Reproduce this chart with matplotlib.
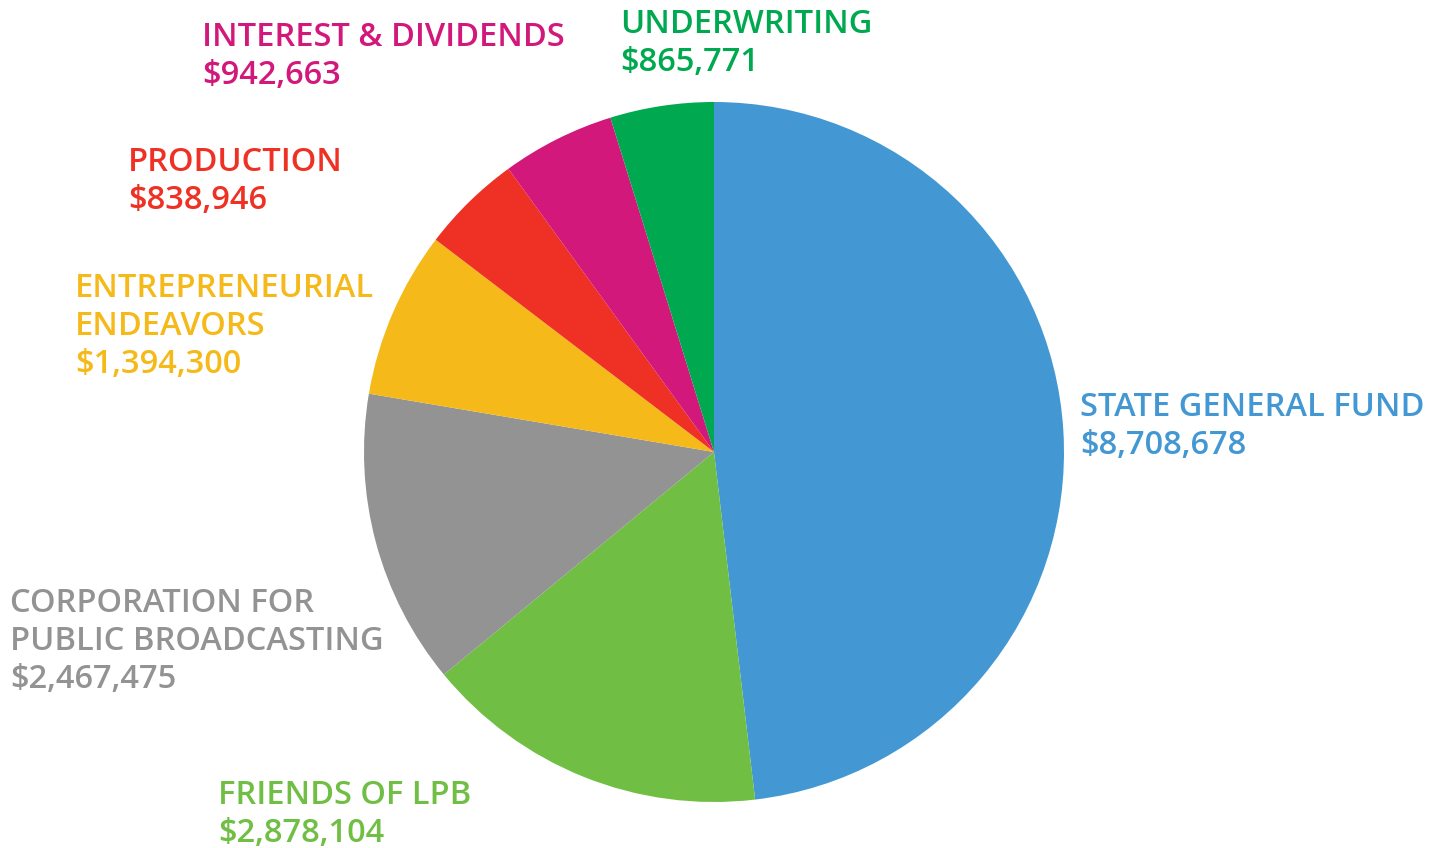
import matplotlib.pyplot as plt

# revenue sources, clockwise from 12 o'clock
sources = ['STATE GENERAL FUND', 'FRIENDS OF LPB', 'CORPORATION FOR\nPUBLIC BROADCASTING',
           'ENTREPRENEURIAL\nENDEAVORS', 'PRODUCTION', 'INTEREST & DIVIDENDS', 'UNDERWRITING']
amounts = [8708678, 2878104, 2467475, 1394300, 838946, 942663, 865771]
colors = ['#4398d3', '#70bf44', '#939393', '#f6b91a', '#ee3124', '#d2187a', '#00a94f']

# label anchor (left x, first baseline y) in pixels
label_pos = [(1080, 416), (218, 804), (10, 612), (75, 297), (128, 171), (202, 46), (620, 33)]

W, H = 1442, 848
fig = plt.figure(figsize=(W / 100, H / 100), dpi=100)

cx, cy, r = 714, 452, 350
ax = fig.add_axes([(cx - r) / W, (H - cy - r) / H, 2 * r / W, 2 * r / H])
ax.pie(amounts, colors=colors, startangle=90, counterclock=False,
       wedgeprops=dict(linewidth=0))
ax.set_xlim(-1, 1)
ax.set_ylim(-1, 1)
ax.set_aspect('equal')
ax.axis('off')

for name, amt, col, (x, y) in zip(sources, amounts, colors, label_pos):
    lines = name.split('\n') + ['${:,}'.format(amt)]
    for i, line in enumerate(lines):
        fig.text(x / W, 1 - (y + 38 * i) / H, line, color=col,
                 fontsize=23.5, family='Open Sans', weight='semibold',
                 va='baseline', ha='left')

fig.savefig('out.png', dpi=100)
